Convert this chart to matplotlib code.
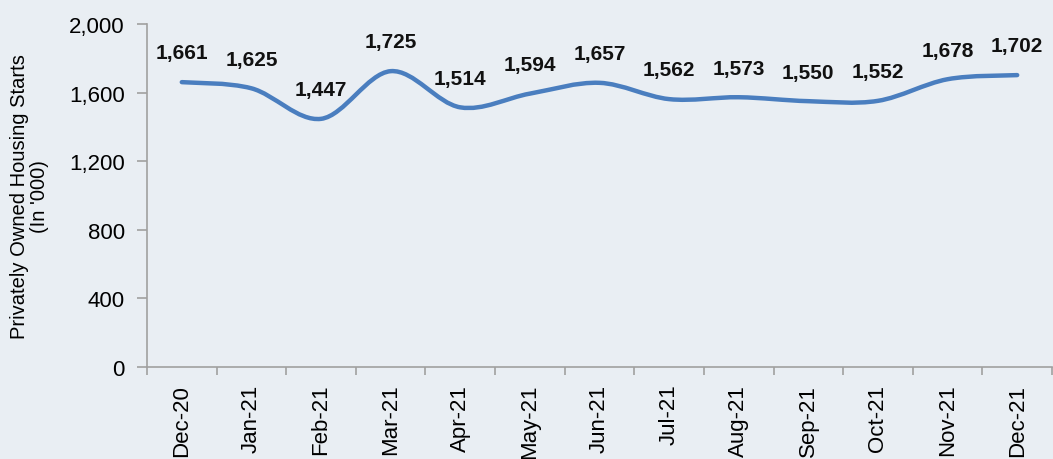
import matplotlib.pyplot as plt
from matplotlib.path import Path
from matplotlib.patches import PathPatch
from matplotlib.ticker import FuncFormatter, FixedLocator
import numpy as np

plt.rcParams['font.family'] = ['Liberation Sans', 'DejaVu Sans']

months = ['Dec-20', 'Jan-21', 'Feb-21', 'Mar-21', 'Apr-21', 'May-21', 'Jun-21',
          'Jul-21', 'Aug-21', 'Sep-21', 'Oct-21', 'Nov-21', 'Dec-21']
starts = [1661, 1625, 1447, 1725, 1514, 1594, 1657, 1562, 1573, 1550, 1552, 1678, 1702]

bg = '#E9EEF3'
line_color = '#4A7EBF'

fig = plt.figure(figsize=(10.53, 4.60), dpi=100, facecolor=bg)
ax = fig.add_axes([147 / 1053, 1 - 368 / 460, (1052 - 147) / 1053, (368 - 25) / 460])
ax.set_facecolor(bg)

# smoothed line, like the excel "smoothed line" option
x = np.arange(len(starts), dtype=float)
y = np.array(starts, dtype=float)
verts = [(x[0], y[0])]
codes = [Path.MOVETO]
for i in range(len(x) - 1):
    x0, y0 = (x[i - 1], y[i - 1]) if i > 0 else (x[i], y[i])
    x3, y3 = (x[i + 2], y[i + 2]) if i + 2 < len(x) else (x[i + 1], y[i + 1])
    c1 = (x[i] + (x[i + 1] - x0) / 6, y[i] + (y[i + 1] - y0) / 6)
    c2 = (x[i + 1] - (x3 - x[i]) / 6, y[i + 1] - (y3 - y[i]) / 6)
    verts += [c1, c2, (x[i + 1], y[i + 1])]
    codes += [Path.CURVE4] * 3
ax.add_patch(PathPatch(Path(verts, codes), facecolor='none', edgecolor=line_color,
                       lw=3.2, capstyle='round', joinstyle='round'))

for xi, yi in zip(x, starts):
    ax.annotate(f'{yi:,}', (xi, yi), xytext=(0, 21), textcoords='offset points',
                ha='center', va='center', fontsize=15, fontweight='bold', color='#111111')

ax.set_xlim(-0.5, len(months) - 0.5)
ax.set_ylim(0, 2000)
ax.set_yticks(range(0, 2001, 400))
ax.yaxis.set_major_formatter(FuncFormatter(lambda v, p: f'{int(v):,}'))

ax.xaxis.set_major_locator(FixedLocator(np.arange(-0.5, len(months), 1.0)))
ax.xaxis.set_minor_locator(FixedLocator(x))
ax.set_xticklabels([''] * len(ax.get_xticks()))
ax.set_xticklabels(months, minor=True, rotation=90, fontsize=16)
ax.tick_params(axis='x', which='major', length=6, color='#A0A0A0', width=1.2)
ax.tick_params(axis='x', which='minor', length=0, pad=12)
ax.tick_params(axis='y', length=7, color='#A0A0A0', width=1.2, pad=9, labelsize=16)

for side in ['top', 'right']:
    ax.spines[side].set_visible(False)
for side in ['left', 'bottom']:
    ax.spines[side].set_color('#A0A0A0')
    ax.spines[side].set_linewidth(1.2)

ax.set_ylabel("Privately Owned Housing Starts\n(In '000)", fontsize=14.5, linespacing=1.1)
ax.yaxis.set_label_coords(-0.108, 0.5)

fig.savefig('out.png', dpi=100, facecolor=bg)
